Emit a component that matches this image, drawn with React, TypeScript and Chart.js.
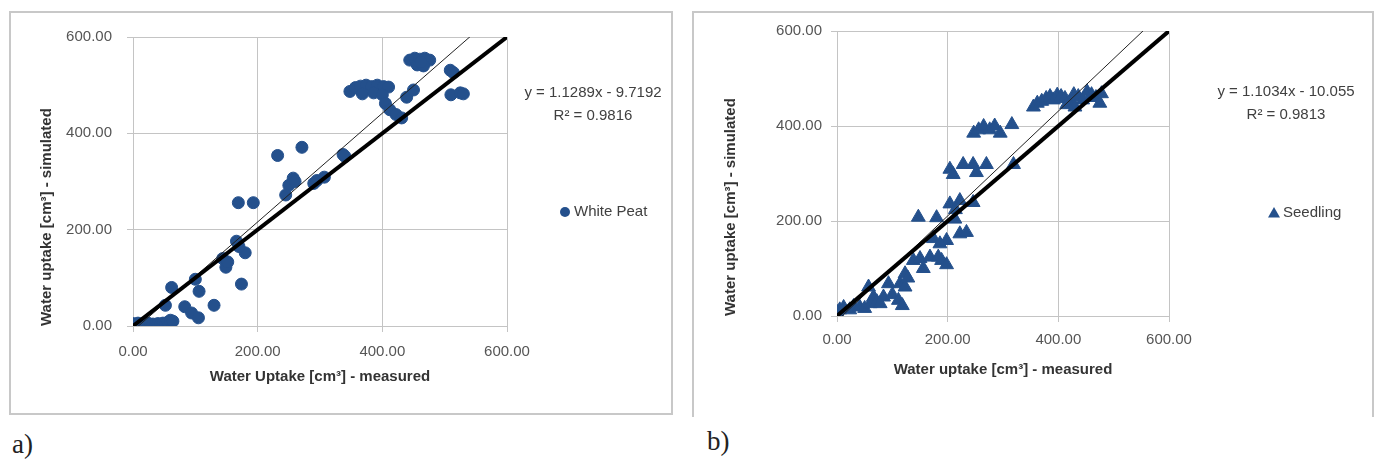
import React, { useEffect, useRef } from 'react';
import { Chart, registerables } from 'chart.js';

Chart.register(...registerables);

// ---------- data ----------
const tickValues = [0, 200, 400, 600];

const peatX = [
  0, 4, 8, 12, 16, 20, 24, 28, 32, 36, 40, 44, 48, 52, 56, 60, 64,
  62, 52, 83, 94, 105, 100, 106, 130, 144, 149, 152, 174, 166, 180, 170,
  169, 193, 232, 271, 257, 250, 245, 260, 295, 307, 290, 337, 340,
  348, 357, 365, 374, 383, 392, 402, 410, 368, 386, 400,
  405, 412, 422, 431, 439, 450,
  444, 452, 460, 468, 476, 456, 466, 462,
  509, 514, 510, 525, 530,
];
const peatY = [
  5, 2, 6, 3, 5, 2, 6, 3, 4, 2, 5, 3, 6, 4, 8, 12, 10,
  80, 43, 40, 27, 17, 97, 72, 43, 140, 122, 133, 87, 176, 152, 165,
  256, 256, 354, 371, 307, 292, 272, 300, 302, 309, 296, 356, 352,
  487, 495, 498, 500, 497, 500, 497, 496, 482, 484, 480,
  462, 449, 439, 432, 475, 490,
  552, 556, 554, 556, 552, 542, 540, 548,
  531, 526, 480, 484, 482,
];

const seedX = [
  0, 5, 12, 23, 30, 41, 50, 60, 57, 66, 72, 78, 84, 93, 100, 111, 114, 118, 123, 123, 128,
  138, 150, 156, 168, 183, 189, 198, 174, 198, 186,
  147, 180, 213, 204, 222, 246, 222, 234, 214,
  204, 210, 228, 246, 252, 270, 319,
  247, 256, 265, 276, 285, 295, 316,
  355, 362, 370, 378, 385, 391, 398, 405, 412, 420, 428, 436, 444, 452, 460, 468, 475, 478, 430, 415,
];
const seedY = [
  8, 13, 18, 13, 20, 19, 16, 26, 61, 40, 30, 26, 40, 68, 45, 33, 68, 22, 61, 89, 80,
  117, 121, 100, 124, 124, 117, 108, 163, 159, 152,
  208, 207, 204, 236, 243, 239, 173, 176, 224,
  309, 298, 319, 319, 302, 319, 319,
  385, 392, 399, 392, 400, 385, 403,
  440, 448, 452, 458, 462, 455, 465, 462, 458, 450, 466, 462, 455, 472, 466, 460, 448, 468, 440, 445,
];

const peatFit = [1.1289, -9.7192];
const peatR2 = '0.9816';
const seedFit = [1.1034, -10.055];
const seedR2 = '0.9813';

// ---------- styles ----------
const FONT = '"Liberation Sans", Arial, sans-serif';
const MARKER = '#24508c';
const GRID = '#c4c4c4';

type PanelProps = {
  width: number;
  height: number;
  area: { left: number; top: number; right: number; bottom: number };
  xs: number[];
  ys: number[];
  fit: number[];
  r2: string;
  label: string;
  marker: 'circle' | 'triangle';
  xTitle: string;
  yTitle: string;
  yTickPad: number;
  xTickPad: number;
  yTitlePad: number;
  xTitlePad: number;
  eq: { x: number; y: number };
  legend: { x: number; y: number };
};

function ScatterPanel(p: PanelProps) {
  const ref = useRef<HTMLCanvasElement | null>(null);
  useEffect(() => {
    if (!ref.current) return;
    const pts = p.xs.map((x, i) => ({ x, y: p.ys[i] }));
    const [slope, intercept] = p.fit;
    const fitLine = [0, 600].map((x) => ({ x, y: slope * x + intercept }));
    const oneToOne = [0, 600].map((x) => ({ x, y: x }));
    const eqText = `y = ${slope}x ${intercept < 0 ? '-' : '+'} ${Math.abs(intercept)}`;

    const annot = {
      id: 'annot',
      afterDraw(chart: any) {
        const ctx = chart.ctx as CanvasRenderingContext2D;
        ctx.save();
        ctx.fillStyle = '#404040';
        ctx.font = `15px ${FONT}`;
        ctx.textAlign = 'center';
        ctx.textBaseline = 'middle';
        ctx.fillText(eqText, p.eq.x, p.eq.y);
        ctx.fillText(`R² = ${p.r2}`, p.eq.x, p.eq.y + 23);
        // legend
        ctx.fillStyle = MARKER;
        const { x, y } = p.legend;
        ctx.beginPath();
        if (p.marker === 'circle') {
          ctx.arc(x, y, 5, 0, Math.PI * 2);
        } else {
          ctx.moveTo(x, y - 6);
          ctx.lineTo(x + 6, y + 4.5);
          ctx.lineTo(x - 6, y + 4.5);
          ctx.closePath();
        }
        ctx.fill();
        ctx.fillStyle = '#404040';
        ctx.textAlign = 'left';
        ctx.fillText(p.label, x + 9, y);
        ctx.restore();
      },
    };

    const tickFont = { family: FONT, size: 15 };
    const titleFont = { family: FONT, size: 15, weight: 'bold' as const };

    const chart = new Chart(ref.current, {
      type: 'scatter',
      data: {
        datasets: [
          {
            label: '1:1',
            data: oneToOne,
            showLine: true,
            borderColor: '#000',
            borderWidth: 4,
            pointRadius: 0,
            fill: false,
          },
          {
            label: 'fit',
            data: fitLine,
            showLine: true,
            borderColor: '#222',
            borderWidth: 1,
            pointRadius: 0,
            fill: false,
          },
          {
            label: p.label,
            data: pts,
            pointStyle: p.marker,
            pointRadius: p.marker === 'circle' ? 6 : 8,
            backgroundColor: MARKER,
            borderColor: MARKER,
            borderWidth: 1,
            showLine: false,
          },
        ],
      },
      options: {
        animation: false,
        responsive: false,
        maintainAspectRatio: false,
        devicePixelRatio: 1,
        layout: {
          padding: { left: 0, top: p.area.top, right: p.width - p.area.right, bottom: 0 },
        },
        plugins: { legend: { display: false }, tooltip: { enabled: false } },
        scales: {
          x: {
            type: 'linear',
            min: 0,
            max: 600,
            afterBuildTicks: (s: any) => {
              s.ticks = tickValues.map((v) => ({ value: v }));
            },
            afterFit: (s: any) => {
              s.height = p.height - p.area.bottom;
            },
            ticks: {
              font: tickFont,
              color: '#555',
              padding: p.xTickPad,
              maxRotation: 0,
              callback: (v: any) => Number(v).toFixed(2),
            },
            grid: { color: GRID, tickLength: 6, lineWidth: 1 },
            border: { color: GRID },
            title: {
              display: true,
              text: p.xTitle,
              font: titleFont,
              color: '#333',
              padding: { top: 0, bottom: p.xTitlePad },
            },
          },
          y: {
            type: 'linear',
            min: 0,
            max: 600,
            afterBuildTicks: (s: any) => {
              s.ticks = tickValues.map((v) => ({ value: v }));
            },
            afterFit: (s: any) => {
              s.width = p.area.left;
            },
            ticks: {
              font: tickFont,
              color: '#555',
              padding: p.yTickPad,
              callback: (v: any) => Number(v).toFixed(2),
            },
            grid: { color: GRID, tickLength: 6, lineWidth: 1 },
            border: { color: GRID },
            title: {
              display: true,
              text: p.yTitle,
              font: titleFont,
              color: '#333',
              align: 'start',
              padding: { top: p.yTitlePad, bottom: 0 },
            },
          },
        },
      },
      plugins: [annot],
    } as any);
    return () => chart.destroy();
  }, []);
  return (
    <canvas
      ref={ref}
      width={p.width}
      height={p.height}
      style={{ width: p.width, height: p.height, display: 'block' }}
    />
  );
}

export default function App() {
  return (
    <div
      style={{
        position: 'absolute',
        left: 0,
        top: 0,
        width: 1376,
        height: 466,
        background: '#fff',
        overflow: 'hidden',
      }}
    >
      <div
        style={{
          position: 'absolute',
          left: 9,
          top: 11,
          width: 664,
          height: 404,
          border: '2px solid #c8c8c8',
          boxSizing: 'border-box',
        }}
      >
        <ScatterPanel
          width={660}
          height={400}
          area={{ left: 122, top: 20, right: 496, bottom: 313 }}
          xs={peatX}
          ys={peatY}
          fit={peatFit}
          r2={peatR2}
          label="White Peat"
          marker="circle"
          xTitle="Water Uptake [cm³] - measured"
          yTitle="Water uptake [cm³] - simulated"
          yTickPad={15}
          xTickPad={11}
          yTitlePad={27}
          xTitlePad={27}
          eq={{ x: 582, y: 80 }}
          legend={{ x: 554, y: 199 }}
        />
      </div>
      <div
        style={{
          position: 'absolute',
          left: 692,
          top: 11,
          width: 682,
          height: 406,
          borderLeft: '2px solid #c8c8c8',
          borderTop: '2px solid #c8c8c8',
          borderRight: '2px solid #c8c8c8',
          boxSizing: 'border-box',
        }}
      >
        <ScatterPanel
          width={678}
          height={402}
          area={{ left: 143, top: 16, right: 475, bottom: 303 }}
          xs={seedX}
          ys={seedY}
          fit={seedFit}
          r2={seedR2}
          label="Seedling"
          marker="triangle"
          xTitle="Water uptake [cm³] - measured"
          yTitle="Water uptake [cm³] - simulated"
          yTickPad={9}
          xTickPad={9}
          yTitlePad={28}
          xTitlePad={36}
          eq={{ x: 592, y: 79 }}
          legend={{ x: 580, y: 200 }}
        />
      </div>
      <div
        style={{
          position: 'absolute',
          left: 12,
          top: 428,
          fontFamily: '"Liberation Serif", "Times New Roman", serif',
          fontSize: 27,
          lineHeight: '32px',
          color: '#222',
        }}
      >
        a)
      </div>
      <div
        style={{
          position: 'absolute',
          left: 707,
          top: 425,
          fontFamily: '"Liberation Serif", "Times New Roman", serif',
          fontSize: 27,
          lineHeight: '32px',
          color: '#222',
        }}
      >
        b)
      </div>
    </div>
  );
}
